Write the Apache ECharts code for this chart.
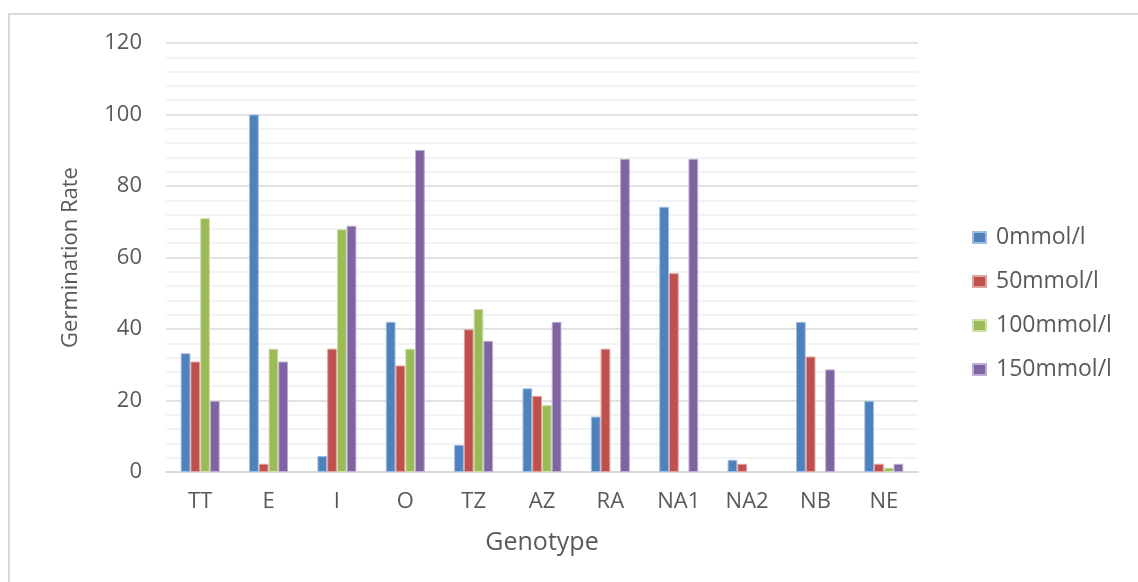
<!DOCTYPE html>
<html><head><meta charset="utf-8">
<script src="https://cdn.jsdelivr.net/npm/echarts@6/dist/echarts.min.js"></script>
<style>
html,body{margin:0;padding:0;background:#fff;}
#frame{position:absolute;left:8px;top:13px;width:1140px;height:580px;border:2px solid #d9d9d9;box-sizing:border-box;}
#chart{position:absolute;left:0;top:0;width:1138px;height:582px;}
</style></head>
<body>
<div id="frame"></div>
<div id="chart"></div>
<script>
const categories = ['TT','E','I','O','TZ','AZ','RA','NA1','NA2','NB','NE'];
const seriesNames = ['0mmol/l','50mmol/l','100mmol/l','150mmol/l'];
// null = no visible bar in the reference
const s0 = [33.2, 100, 4.5, 42.0, 7.6, 23.4, 15.5, 74.2, 3.4, 42.0, 19.9];
const s50 = [30.9, 2.3, 34.5, 29.8, 39.9, 21.3, 34.5, 55.6, 2.3, 32.3, 2.3];
const s100 = [71.0, 34.5, 67.9, 34.5, 45.6, 18.7, null, null, null, null, 1.2];
const s150 = [19.9, 30.9, 68.9, 90.1, 36.7, 42.0, 87.6, 87.6, null, 28.7, 2.3];
const yTicks = [0, 20, 40, 60, 80, 100, 120];
const colors = ['#4F81BD','#C0504D','#9BBB59','#8064A2'];
const borders = ['#9fbde0','#e0a3a1','#cfe0a8','#bcaed4'];

const chart = echarts.init(document.getElementById('chart'), null, {renderer:'canvas'});
const font = '"Open Sans", "DejaVu Sans", sans-serif';
const data = [s0, s50, s100, s150];
chart.setOption({
  animation:false,
  color: colors,
  grid:{left:166, right:220, top:43, bottom:110},
  legend:{
    orient:'vertical', left:967, top:221,
    itemWidth:13, itemHeight:11, itemGap:21,
    icon:'rect',
    textStyle:{fontFamily:font, fontSize:23, color:'#595959', padding:[0,0,0,5]},
    data: seriesNames
  },
  xAxis:{
    type:'category', data:categories,
    name:'Genotype', nameLocation:'middle', nameGap:58,
    nameTextStyle:{fontFamily:font, fontSize:25, color:'#595959'},
    axisLine:{lineStyle:{color:'#d9d9d9', width:2}},
    axisTick:{show:false},
    axisLabel:{fontFamily:font, fontSize:22, color:'#595959', margin:19}
  },
  yAxis:{
    type:'value', min:yTicks[0], max:yTicks[yTicks.length-1], interval:20,
    name:'Germination Rate', nameLocation:'middle', nameGap:84,
    nameTextStyle:{fontFamily:font, fontSize:22, color:'#595959'},
    axisLine:{show:false}, axisTick:{show:false},
    axisLabel:{fontFamily:font, fontSize:22, color:'#595959', margin:24},
    splitLine:{lineStyle:{color:'#d9d9d9', width:1.5}},
    minorTick:{show:false, splitNumber:5},
    minorSplitLine:{show:true, lineStyle:{color:'#f0f0f0', width:1.5}}
  },
  series: seriesNames.map((n,i)=>({
    name:n, type:'bar', data:data[i],
    barGap:'0%', barCategoryGap:'43%',
    itemStyle:{color:colors[i], borderColor:borders[i], borderWidth:1}
  }))
});
</script>
</body></html>
